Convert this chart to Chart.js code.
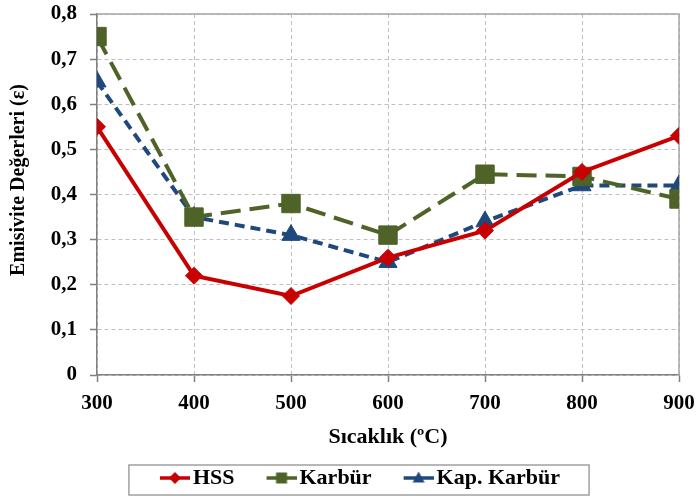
<!DOCTYPE html>
<html><head><meta charset="utf-8">
<script src="https://cdn.jsdelivr.net/npm/chart.js@4/dist/chart.umd.min.js"></script>
<style>html,body{margin:0;padding:0;background:#fff;}</style>
</head><body>
<canvas id="c" width="698" height="496"></canvas>
<script>
const temperatures = [300, 400, 500, 600, 700, 800, 900];
const hssValues = [0.55, 0.22, 0.175, 0.26, 0.32, 0.45, 0.53];
const karburValues = [0.75, 0.35, 0.38, 0.31, 0.445, 0.44, 0.39];
const kapKarburValues = [0.65, 0.35, 0.31, 0.25, 0.34, 0.42, 0.42];
const seriesNames = ['HSS', 'Karbür', 'Kap. Karbür'];
const xTitle = 'Sıcaklık (ºC)';
const yTitle = 'Emisivite Değerleri (ε)';

const RED = '#C80000', GREEN = '#4F6228', BLUE = '#1F497D';
const FONT = "'Liberation Serif', 'Times New Roman', serif";

function makeIcon(color, shape) {
  const cv = document.createElement('canvas');
  cv.width = 60; cv.height = 20;
  const g = cv.getContext('2d');
  g.strokeStyle = color; g.fillStyle = color; g.lineWidth = 3.5;
  g.beginPath(); g.moveTo(30, 10); g.lineTo(60, 10); g.stroke();
  const cx = 45, cy = 10;
  g.beginPath();
  if (shape === 'diamond') {
    g.moveTo(cx - 6, cy); g.lineTo(cx, cy - 6); g.lineTo(cx + 6, cy); g.lineTo(cx, cy + 6);
  } else if (shape === 'square') {
    g.rect(cx - 5.5, cy - 5.5, 11, 11);
  } else {
    g.moveTo(cx, cy - 6.5); g.lineTo(cx + 6, cy + 4.5); g.lineTo(cx - 6, cy + 4.5);
  }
  g.closePath(); g.fill();
  return cv;
}
const icons = [makeIcon(RED, 'diamond'), makeIcon(GREEN, 'square'), makeIcon(BLUE, 'triangle')];

const toXY = vals => temperatures.map((t, i) => ({x: t, y: vals[i]}));

const plotBorder = {
  id: 'plotBorder',
  beforeDatasetsDraw(chart) {
    const {ctx, chartArea: a} = chart;
    ctx.save();
    ctx.strokeStyle = '#A6A6A6'; ctx.lineWidth = 1.5;
    ctx.beginPath();
    ctx.moveTo(a.left, a.top); ctx.lineTo(a.right, a.top); ctx.lineTo(a.right, a.bottom);
    ctx.stroke();
    ctx.restore();
  }
};
const yTitlePlugin = {
  id: 'yTitle',
  afterDraw(chart) {
    const ctx = chart.ctx;
    ctx.save();
    ctx.translate(19, 180);
    ctx.rotate(-Math.PI / 2);
    ctx.font = "bold 20px " + FONT;
    ctx.fillStyle = '#000';
    ctx.textAlign = 'center';
    ctx.textBaseline = 'middle';
    ctx.fillText(yTitle, 0, 0);
    ctx.restore();
  }
};
const legendBorder = {
  id: 'legendBorder',
  afterDraw(chart) {
    const hb = chart.legend && chart.legend.legendHitBoxes;
    if (!hb || !hb.length) return;
    const first = hb[0], last = hb[hb.length - 1];
    const left = first.left - 9;
    const right = last.left + last.width + 29;
    const top = first.top - 2;
    const ctx = chart.ctx;
    ctx.save();
    ctx.strokeStyle = '#A0A0A0'; ctx.lineWidth = 1.5;
    ctx.strokeRect(left, top, right - left, 30);
    ctx.restore();
  }
};

Chart.defaults.font.family = FONT;
Chart.defaults.font.weight = 'bold';
Chart.defaults.color = '#000';

new Chart(document.getElementById('c'), {
  type: 'line',
  data: {
    datasets: [
      {label: seriesNames[0], data: toXY(hssValues), borderColor: RED, backgroundColor: RED,
       borderWidth: 4, pointStyle: 'rectRot', pointRadius: 8.5, pointBorderWidth: 1, tension: 0},
      {label: seriesNames[1], data: toXY(karburValues), borderColor: GREEN, backgroundColor: GREEN,
       borderWidth: 4, borderDash: [20, 9], pointStyle: 'rect', pointRadius: 13, pointBorderWidth: 1, tension: 0},
      {label: seriesNames[2], data: toXY(kapKarburValues), borderColor: BLUE, backgroundColor: BLUE,
       borderWidth: 4, borderDash: [10, 6], pointStyle: 'triangle', pointRadius: 10.5, pointBorderWidth: 1, tension: 0}
    ]
  },
  options: {
    responsive: false,
    animation: false,
    events: [],
    devicePixelRatio: 1,
    layout: {padding: {left: 0, right: 0, top: 12, bottom: -3}},
    scales: {
      x: {
        type: 'linear', min: 300, max: 900,
        ticks: {stepSize: 100, padding: 9, color: '#000', font: {size: 21, weight: 'bold'}, callback: v => String(v)},
        grid: {color: '#BFBFBF', lineWidth: 1, tickLength: 7, tickColor: '#808080', tickWidth: 1.5, tickBorderDash: []},
        border: {color: '#808080', width: 1.5, dash: [4, 3]},
        title: {display: true, text: xTitle, color: '#000', font: {size: 22, weight: 'bold', lineHeight: 1}, padding: {top: 0, bottom: 9}},
        afterFit: s => { s.height = 82; s.paddingLeft = 0; s.paddingRight = 19; }
      },
      y: {
        min: 0, max: 0.8,
        ticks: {stepSize: 0.1, padding: 13, color: '#000', font: {size: 21, weight: 'bold'},
                callback: v => { const r = Math.round(v * 10) / 10; return r === 0 ? '0' : r.toFixed(1).replace('.', ','); }},
        grid: {color: '#BFBFBF', lineWidth: 1, tickLength: 7, tickColor: '#808080', tickWidth: 1.5, tickBorderDash: []},
        border: {color: '#808080', width: 1.5, dash: [4, 3]},
        title: {display: false},
        afterFit: s => { s.width = 97; s.paddingTop = 0; s.paddingBottom = 0; }
      }
    },
    plugins: {
      tooltip: {enabled: false},
      legend: {
        position: 'bottom',
        labels: {
          usePointStyle: true, pointStyleWidth: 44, padding: 10, color: '#000',
          font: {size: 22, weight: 'bold'},
          generateLabels(chart) {
            const items = Chart.defaults.plugins.legend.labels.generateLabels(chart);
            items.forEach((it, i) => { it.pointStyle = icons[i]; });
            return items;
          }
        }
      }
    }
  },
  plugins: [plotBorder, yTitlePlugin, legendBorder]
});
</script>
</body></html>
